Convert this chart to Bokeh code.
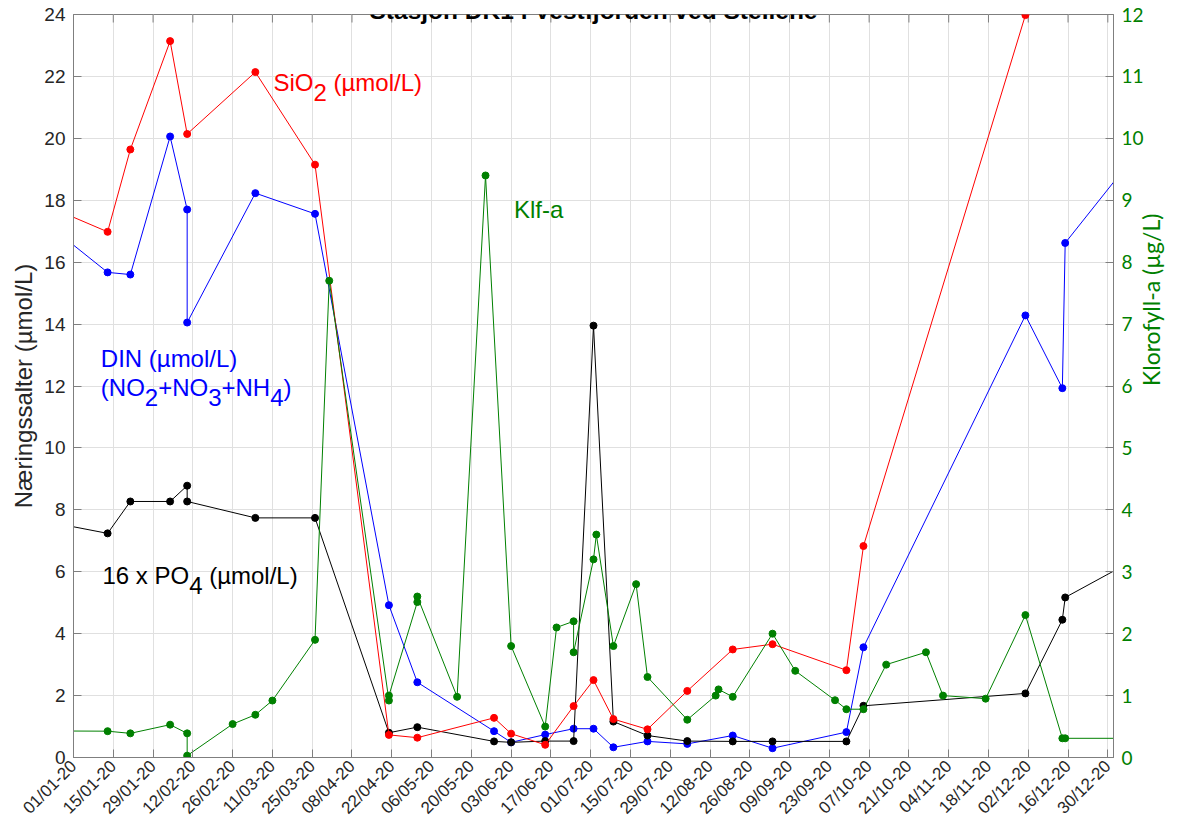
import pandas as pd
from math import pi
from bokeh.plotting import figure
from bokeh.models import Range1d, LinearAxis, FixedTicker, Label, DatetimeTickFormatter
from bokeh.embed import file_html
from bokeh.resources import INLINE

# ---------------- data ----------------
sio2_dates = ["2019-12-18", "2020-01-13", "2020-01-21", "2020-02-04", "2020-02-10", "2020-03-05",
              "2020-03-26", "2020-04-21", "2020-05-01", "2020-05-28", "2020-06-03", "2020-06-15",
              "2020-06-25", "2020-07-02", "2020-07-09", "2020-07-21", "2020-08-04", "2020-08-20",
              "2020-09-03", "2020-09-29", "2020-10-05", "2020-12-01"]
sio2_values = [18.0, 16.98, 19.64, 23.14, 20.14, 22.14,
               19.15, 0.73, 0.64, 1.28, 0.77, 0.41,
               1.66, 2.50, 1.24, 0.91, 2.15, 3.49,
               3.66, 2.82, 6.83, 23.98]

din_dates = ["2019-12-18", "2020-01-13", "2020-01-21", "2020-02-04", "2020-02-10", "2020-02-10",
             "2020-03-05", "2020-03-26", "2020-04-21", "2020-05-01", "2020-05-28", "2020-06-03",
             "2020-06-15", "2020-06-25", "2020-07-02", "2020-07-09", "2020-07-21", "2020-08-04",
             "2020-08-20", "2020-09-03", "2020-09-29", "2020-10-05", "2020-12-01", "2020-12-14",
             "2020-12-15", "2021-01-12"]
din_values = [17.58, 15.67, 15.60, 20.06, 17.70, 14.05,
              18.23, 17.56, 4.92, 2.43, 0.85, 0.49,
              0.74, 0.93, 0.93, 0.33, 0.52, 0.44,
              0.71, 0.30, 0.82, 3.56, 14.28, 11.93,
              16.62, 19.85]

po4_dates = ["2019-12-18", "2020-01-13", "2020-01-21", "2020-02-04", "2020-02-10", "2020-02-10",
             "2020-03-05", "2020-03-26", "2020-04-21", "2020-05-01", "2020-05-28", "2020-06-03",
             "2020-06-15", "2020-06-25", "2020-07-02", "2020-07-09", "2020-07-21", "2020-08-04",
             "2020-08-20", "2020-09-03", "2020-09-29", "2020-10-05", "2020-12-01", "2020-12-14",
             "2020-12-15", "2021-01-12"]
po4x16_values = [7.70, 7.24, 8.27, 8.27, 8.78, 8.27,
                 7.74, 7.74, 0.80, 0.98, 0.52, 0.49,
                 0.53, 0.53, 13.95, 1.16, 0.71, 0.53,
                 0.52, 0.52, 0.52, 1.67, 2.07, 4.45,
                 5.17, 6.57]

klf_dates = ["2019-12-18", "2020-01-13", "2020-01-21", "2020-02-04", "2020-02-10", "2020-02-10",
             "2020-02-26", "2020-03-05", "2020-03-11", "2020-03-26", "2020-03-31", "2020-04-21",
             "2020-04-21", "2020-05-01", "2020-05-01", "2020-05-15", "2020-05-25", "2020-06-03",
             "2020-06-15", "2020-06-19", "2020-06-25", "2020-06-25", "2020-07-02", "2020-07-03",
             "2020-07-09", "2020-07-17", "2020-07-21", "2020-08-04", "2020-08-14", "2020-08-15",
             "2020-08-20", "2020-09-03", "2020-09-11", "2020-09-25", "2020-09-29", "2020-10-05",
             "2020-10-13", "2020-10-27", "2020-11-02", "2020-11-17", "2020-12-01", "2020-12-14",
             "2020-12-15", "2021-01-12"]
klf_values = [0.43, 0.425, 0.39, 0.53, 0.39, 0.03,
              0.54, 0.69, 0.92, 1.90, 7.70, 0.92,
              1.00, 2.51, 2.60, 0.98, 9.40, 1.80,
              0.50, 2.10, 2.20, 1.70, 3.20, 3.60,
              1.80, 2.80, 1.30, 0.61, 1.00, 1.10,
              0.98, 2.00, 1.40, 0.925, 0.78, 0.78,
              1.50, 1.70, 1.00, 0.95, 2.30, 0.31,
              0.31, 0.31]

x_tick_dates = pd.date_range("2020-01-01", "2020-12-30", freq="14D")
x_tick_labels = ["01/01-20", "15/01-20", "29/01-20", "12/02-20", "26/02-20", "11/03-20", "25/03-20",
                 "08/04-20", "22/04-20", "06/05-20", "20/05-20", "03/06-20", "17/06-20", "01/07-20",
                 "15/07-20", "29/07-20", "12/08-20", "26/08-20", "09/09-20", "23/09-20", "07/10-20",
                 "21/10-20", "04/11-20", "18/11-20", "02/12-20", "16/12-20", "30/12-20"]
left_ticks = list(range(0, 25, 2))
right_ticks = list(range(0, 13, 1))

# ---------------- figure ----------------
FONT = "Liberation Sans"
GRAY = "#262626"
AXC = "#7f7f7f"
Y_TOP = 24

def ms(ts):
    return pd.Timestamp(ts).value / 1e6

x_ticks_ms = [ms(t) for t in x_tick_dates]

p = figure(width=1182, height=830, x_axis_type="datetime",
           x_range=Range1d(start=ms("2020-01-01"), end=ms("2021-01-01")),
           y_range=Range1d(0, Y_TOP),
           output_backend="svg", toolbar_location=None,
           min_border_left=73, min_border_right=69, min_border_top=14, min_border_bottom=73)
p.outline_line_color = AXC
p.extra_y_ranges = {"klf": Range1d(0, 12)}

# x axis
xa = p.xaxis[0]
xa.ticker = FixedTicker(ticks=x_ticks_ms)
xa.formatter = DatetimeTickFormatter(days="%d/%m-%y", months="%d/%m-%y", years="%d/%m-%y")
xa.major_label_overrides = {t: lab for t, lab in zip(x_ticks_ms, x_tick_labels)}
xa.major_label_orientation = pi / 4
xa.major_label_text_font = FONT
xa.major_label_text_font_size = "17px"
xa.major_label_text_color = GRAY
xa.major_tick_in = 8
xa.major_tick_out = 0
xa.minor_tick_line_color = None
xa.axis_line_color = AXC
xa.major_tick_line_color = AXC
xa.major_label_standoff = 6

# left axis
ya = p.yaxis[0]
ya.ticker = FixedTicker(ticks=left_ticks)
ya.axis_label = "Næringssalter (µmol/L)"
ya.axis_label_text_font = FONT
ya.axis_label_text_font_style = "normal"
ya.axis_label_text_font_size = "24px"
ya.axis_label_text_color = GRAY
ya.axis_label_standoff = 4
ya.major_label_text_font = FONT
ya.major_label_text_font_size = "19px"
ya.major_label_text_color = GRAY
ya.major_tick_in = 8
ya.major_tick_out = 0
ya.minor_tick_line_color = None
ya.axis_line_color = AXC
ya.major_tick_line_color = AXC
ya.major_label_standoff = 8

# right axis
ra = LinearAxis(y_range_name="klf", ticker=FixedTicker(ticks=right_ticks),
                axis_label="Klorofyll-a (µg/L)")
ra.axis_label_text_font = "Lato"
ra.axis_label_text_font_style = "normal"
ra.axis_label_text_font_size = "23px"
ra.axis_label_text_color = "#008000"
ra.axis_label_standoff = 4
ra.axis_label_text_align = "center"
try:
    ra.axis_label_orientation = pi / 2
except Exception:
    pass
ra.major_label_text_font = "Lato"
ra.major_label_text_font_size = "19px"
ra.major_label_text_color = "#008000"
ra.major_tick_in = 8
ra.major_tick_out = 0
ra.minor_tick_line_color = None
ra.axis_line_color = AXC
ra.major_tick_line_color = AXC
ra.major_label_standoff = 8
p.add_layout(ra, "right")

# grids
p.xgrid.ticker = FixedTicker(ticks=x_ticks_ms)
p.ygrid.ticker = FixedTicker(ticks=left_ticks)
p.xgrid.grid_line_color = "#e0e0e0"
p.ygrid.grid_line_color = "#e0e0e0"

# top box ticks (inward), derived from the x tick list
tick_len = 8 * Y_TOP / 743.0
p.segment(x0=x_ticks_ms, y0=[Y_TOP] * len(x_ticks_ms), x1=x_ticks_ms,
          y1=[Y_TOP - tick_len] * len(x_ticks_ms), line_color=AXC, line_width=1)

# ---------------- series ----------------
def series(dates, vals, color, rng=None):
    xs = [ms(d) for d in dates]
    kw = {} if rng is None else {"y_range_name": rng}
    p.line(xs, vals, line_color=color, line_width=1, **kw)
    p.scatter(xs, vals, marker="circle", size=7, fill_color=color, line_color=color, **kw)

series(din_dates, din_values, "#0000ff")
series(po4_dates, po4x16_values, "#000000")
series(sio2_dates, sio2_values, "#ff0000")
series(klf_dates, klf_values, "#008000", "klf")

# ---------------- annotations ----------------
W = {"S": 667, "i": 222, "O": 778, " ": 278, "(": 333, ")": 333, "µ": 556, "m": 833, "o": 556,
     "l": 222, "/": 278, "L": 556, "N": 722, "+": 584, "H": 722, "1": 556, "6": 556, "x": 500,
     "P": 667, "2": 556, "3": 556, "4": 556}
FS = 24

def width(s):
    return sum(W.get(c, 556) for c in s) * FS / 1000.0

def rich(day, yval, pieces, color):
    x0 = ms(pd.Timestamp("2020-01-01") + pd.Timedelta(days=day))
    off = 0.0
    for txt, sub in pieces:
        lead = len(txt) - len(txt.lstrip(" "))
        off += width(" " * lead)
        t = txt.lstrip(" ")
        p.add_layout(Label(x=x0, y=yval, x_offset=off, y_offset=(-10 if sub else 0), text=t,
                           text_font=FONT, text_font_size=f"{FS}px", text_color=color,
                           text_align="left", text_baseline="alphabetic"))
        off += width(t)

rich(70.37, 21.81, [("SiO", False), ("2", True), (" (µmol/L)", False)], "#ff0000")
rich(155.0, 17.69, [("Klf-a", False)], "#008000")
rich(9.61, 12.88, [("DIN (µmol/L)", False)], "#0000ff")
rich(9.61, 11.96, [("(NO", False), ("2", True), ("+NO", False), ("3", True), ("+NH", False),
                   ("4", True), (")", False)], "#0000ff")
rich(10.2, 5.88, [("16 x PO", False), ("4", True), (" (µmol/L)", False)], "#000000")

# title
p.add_layout(Label(x=ms("2020-07-02"), y=Y_TOP, y_offset=4.5, text="Stasjon DK1 i Vestfjorden ved Steilene",
                   text_font=FONT, text_font_size="24.5px", text_font_style="bold", text_color="#000000",
                   text_align="center", text_baseline="alphabetic"))

open("out.html", "w").write(file_html(p, INLINE))
